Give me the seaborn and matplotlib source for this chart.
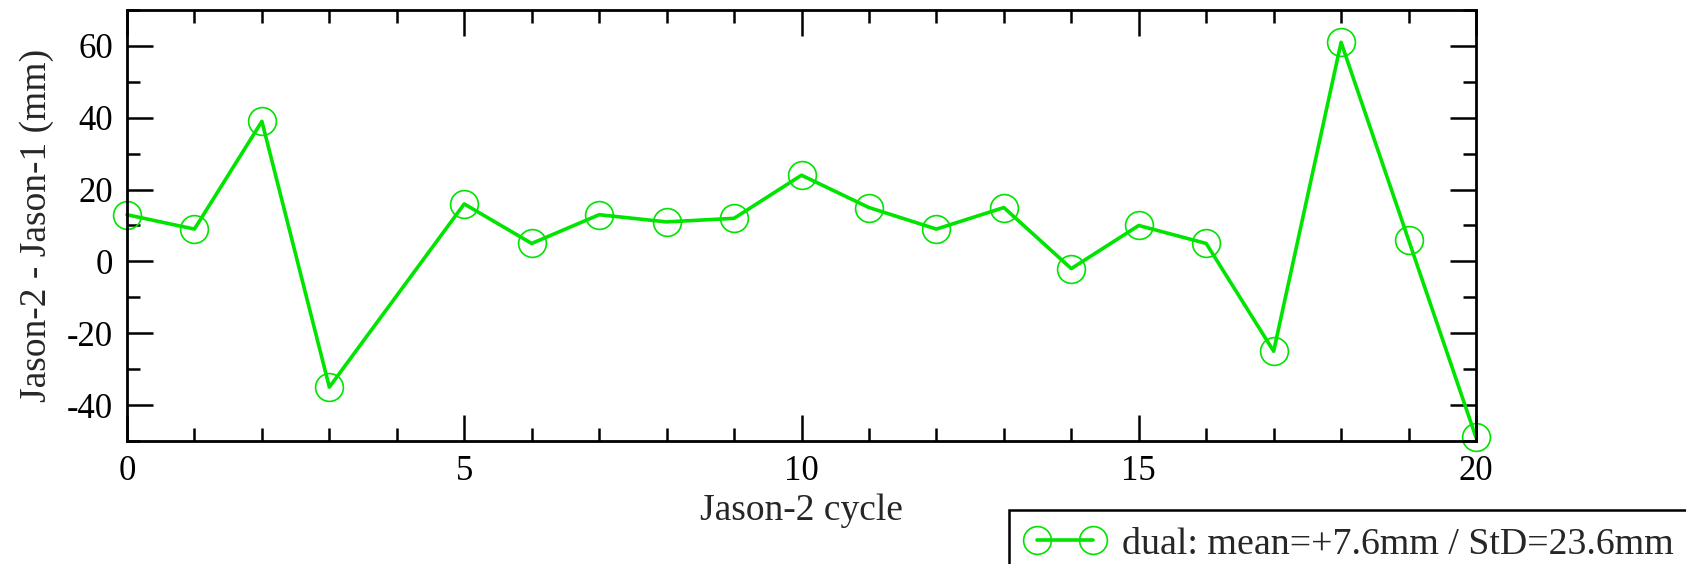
import matplotlib
matplotlib.use("Agg")
import matplotlib.pyplot as plt
import seaborn as sns
import pandas as pd
from matplotlib.ticker import MultipleLocator

cycles = [0, 1, 2, 3, 5, 6, 7, 8, 9, 10, 11, 12, 13, 14, 15, 16, 17, 18, 19, 20]
diff_mm = [13, 9, 39, -35, 16, 5, 13, 11, 12, 24, 15, 9, 15, -2, 10, 5, -25, 61, 6, -49]
series_label = "dual: mean=+7.6mm / StD=23.6mm"

sns.set_style("ticks")
plt.rcParams['font.family'] = ['Liberation Serif', 'DejaVu Serif']
plt.rcParams['axes.unicode_minus'] = False

df = pd.DataFrame({"cycle": cycles, "diff": diff_mm})

W, H = 1686, 564
fig = plt.figure(figsize=(W / 100, H / 100), dpi=100)
ax = fig.add_axes([127 / W, 1 - 441 / H, (1476 - 127) / W, (441 - 10) / H])

green = "#00e400"
sns.lineplot(data=df, x="cycle", y="diff", ax=ax, color=green, linewidth=2.6,
             marker="o", markersize=20, markerfacecolor="none",
             markeredgecolor=green, markeredgewidth=1.2, label=series_label,
             clip_on=False)

ax.set_xlim(0, 20)
ax.set_ylim(-50, 70)
ax.xaxis.set_major_locator(MultipleLocator(5))
ax.xaxis.set_minor_locator(MultipleLocator(1))
ax.set_yticks([-40, -20, 0, 20, 40, 60])
ax.yaxis.set_minor_locator(MultipleLocator(10))
ax.tick_params(which='both', direction='in', top=True, right=True, width=1.8,
               colors='black')
ax.tick_params(which='major', length=19, pad=10, labelsize=25)
ax.tick_params(which='minor', length=9.5)
for lab in ax.get_xticklabels() + ax.get_yticklabels():
    lab.set_fontsize(25)
for s in ax.spines.values():
    s.set_linewidth(2.0)
    s.set_color('black')

ax.set_xlabel("Jason-2 cycle", fontsize=27, labelpad=4)
ax.set_ylabel("Jason-2 - Jason-1 (mm)", fontsize=27, labelpad=9)

leg = ax.legend(loc='upper left', bbox_to_anchor=(1009 / W, 1 - 510 / H),
                bbox_transform=fig.transFigure, fontsize=27.3, frameon=True,
                fancybox=False, edgecolor='black', framealpha=1,
                borderpad=0.45, borderaxespad=0, numpoints=2,
                handlelength=2.07, handletextpad=0.45, markerscale=1.0)
leg.get_frame().set_linewidth(1.8)

fig.savefig("out.png", dpi=100)
